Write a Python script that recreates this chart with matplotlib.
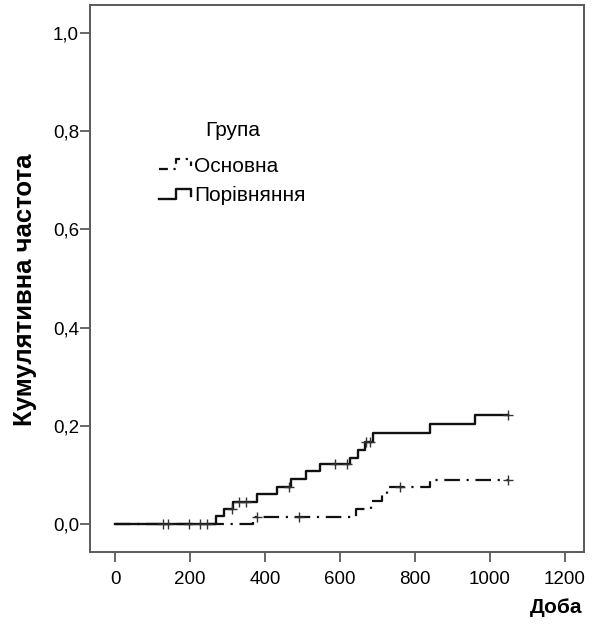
import numpy as np
import matplotlib
matplotlib.use("Agg")
import matplotlib.pyplot as plt
from matplotlib.lines import Line2D
from matplotlib.legend_handler import HandlerBase

plt.rcParams['font.family'] = ['Liberation Sans', 'DejaVu Sans']

# ------------------------------
#  Дані
# ------------------------------
group_title = "Група"
groups = ["Основна", "Порівняння"]

# Основна група: моменти подій та кумулятивна частота
t_osn = [368, 644, 682, 711, 725, 840]
f_osn = [0.015, 0.031, 0.046, 0.061, 0.075, 0.090]
cens_osn = [142, 226, 379, 491, 760, 1048]

# Група порівняння
t_por = [269, 291, 314, 379, 432, 469, 509, 547, 628, 649, 667, 689, 840, 960]
f_por = [0.0157, 0.031, 0.045, 0.061, 0.075, 0.091, 0.107, 0.122,
         0.135, 0.151, 0.167, 0.186, 0.204, 0.221]
cens_por = [129, 196, 246, 313, 331, 349, 464, 587, 619, 669, 680, 1048]

t_end = 1048

x_ticks = [0, 200, 400, 600, 800, 1000, 1200]
y_ticks = [0.0, 0.2, 0.4, 0.6, 0.8, 1.0]
y_tick_labels = ["0,0", "0,2", "0,4", "0,6", "0,8", "1,0"]

x_label = "Доба"
y_label = "Кумулятивна частота"

LINE_COL = "#111111"
AX_COL = "#5a5a5a"
DASH = (7, 3, 1, 3)


def step_xy(times, freqs):
    x = [0] + list(times) + [t_end]
    y = [0.0] + list(freqs) + [freqs[-1]]
    return x, y


def level_at(times, freqs, t):
    idx = np.searchsorted(times, t, side='right')
    levels = np.concatenate([[0.0], freqs])
    return levels[idx]


class StepHandler(HandlerBase):
    """Маленька ступінчаста лінія як маркер легенди."""
    def create_artists(self, legend, orig_handle, xdescent, ydescent,
                       width, height, fontsize, trans):
        xs = np.array([0.0, 0.5, 0.5, 0.95, 0.95]) * width - xdescent
        ys = np.array([0.0, 0.0, 1.0, 1.0, 0.3]) * height - ydescent
        ln = Line2D(xs, ys, color=orig_handle.get_color(),
                    linestyle=orig_handle.get_linestyle(),
                    linewidth=orig_handle.get_linewidth())
        if orig_handle.get_linestyle() != '-':
            ln.set_dashes((4, 2.5, 1, 2.5))
        ln.set_transform(trans)
        return [ln]


fig = plt.figure(figsize=(5.93, 6.25), dpi=100)
ax = fig.add_axes([90 / 593, 73 / 625, 494 / 593, 547 / 625])

x1, y1 = step_xy(t_osn, f_osn)
l_osn, = ax.step(x1, y1, where='post', color=LINE_COL, lw=1.6,
                 dashes=DASH, label=groups[0])
x2, y2 = step_xy(t_por, f_por)
l_por, = ax.step(x2, y2, where='post', color=LINE_COL, lw=1.7,
                 label=groups[1])

ax.plot(cens_osn, level_at(t_osn, f_osn, cens_osn), ls='none', marker='+',
        ms=7, mew=1.0, color="#333333")
ax.plot(cens_por, level_at(t_por, f_por, cens_por), ls='none', marker='+',
        ms=7, mew=1.0, color="#333333")

ax.set_xlim(-67, 1251)
ax.set_ylim(-0.057, 1.057)
ax.set_xticks(x_ticks)
ax.set_yticks(y_ticks)
ax.set_yticklabels(y_tick_labels)

for s in ax.spines.values():
    s.set_color(AX_COL)
    s.set_linewidth(1.4)
ax.tick_params(axis='both', direction='out', length=7, width=1.3,
               color=AX_COL, labelsize=13.5, labelcolor='black')
ax.tick_params(axis='x', pad=7)
ax.tick_params(axis='y', pad=1)

ax.set_ylabel(y_label, fontsize=18.5, fontweight='bold')
ax.yaxis.set_label_coords(-0.108, 0.479)
ax.set_xlabel(x_label, fontsize=15, fontweight='bold', ha='right')
ax.xaxis.set_label_coords(0.996, -0.084)

leg = ax.legend(handles=[l_osn, l_por], labels=groups, title=group_title,
                handler_map={Line2D: StepHandler()},
                loc='upper left', bbox_to_anchor=(0.11, 0.8145),
                frameon=False, fontsize=15, title_fontsize=15,
                handlelength=1.6, handleheight=0.35, handletextpad=0.1,
                labelspacing=0.5, borderpad=0.2)
leg._legend_box.sep = 12

fig.savefig("out.png", dpi=100)
